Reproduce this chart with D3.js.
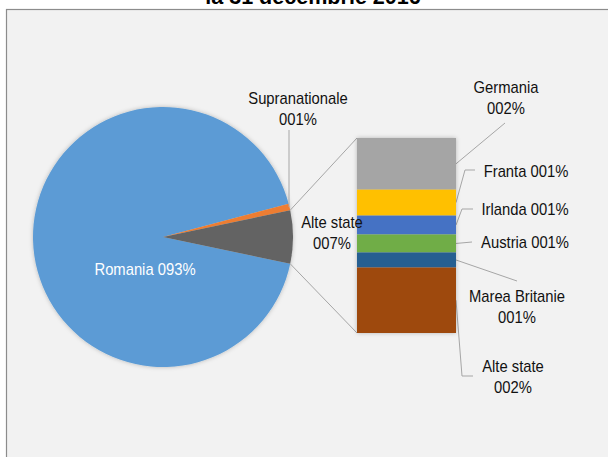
<!DOCTYPE html>
<html>
<head>
<meta charset="utf-8">
<script src="https://cdn.jsdelivr.net/npm/d3@7"></script>
<style>
  html, body { margin: 0; padding: 0; background: #fff; overflow: hidden; }
  text { font-family: Arial, "Liberation Sans", sans-serif; }
</style>
</head>
<body>
<div id="chart"></div>
<script>
// data (percent of total)
const pieCategories = ["Romania", "Supranationale", "Alte state"];
const pieValues = [92.6, 0.8, 6.61];
const pieColors = ["#5b9bd5", "#ed7d31", "#636363"];

const barCategories = ["Germania", "Franta", "Irlanda", "Austria", "Marea Britanie", "Alte state"];
const barValues = [1.75, 0.88, 0.64, 0.61, 0.51, 2.22];
const barColors = ["#a5a5a5", "#ffc000", "#4472c4", "#70ad47", "#255e91", "#9e480e"];

const titleText = "la 31 decembrie 2016";

const width = 608, height = 457;
const fmt = v => String(Math.round(v)).padStart(3, "0") + "%";

const svg = d3.select("#chart").append("svg")
    .attr("width", width)
    .attr("height", height);

const defs = svg.append("defs");
const shadow = defs.append("filter").attr("id", "shadow")
    .attr("x", "-20%").attr("y", "-20%").attr("width", "140%").attr("height", "140%");
shadow.append("feDropShadow")
    .attr("dx", 0).attr("dy", 0)
    .attr("stdDeviation", 2)
    .attr("flood-color", "#000")
    .attr("flood-opacity", 0.25);

// chart frame (cut off on the right and bottom)
svg.append("rect")
    .attr("x", 6.5).attr("y", 9.5)
    .attr("width", 700).attr("height", 500)
    .attr("fill", "#f2f2f2")
    .attr("stroke", "#8c8c8c")
    .attr("stroke-width", 1.2);

// title, only its lower part is visible in the original too
svg.append("text")
    .attr("transform", "translate(313,4) scale(0.98,1)")
    .attr("text-anchor", "middle")
    .attr("font-size", 22)
    .attr("font-weight", "bold")
    .attr("fill", "#000")
    .text(titleText);

function label(g, lines, cx, y0, color) {
    lines.forEach((t, i) => {
        g.append("text")
            .attr("transform", `translate(${cx},${y0 + i * 21}) scale(0.87,1)`)
            .attr("text-anchor", "middle")
            .attr("font-size", 17)
            .attr("fill", color || "#111")
            .text(t);
    });
}

// ---- pie ----
const cx = 163, cy = 237, R = 130;
const total = d3.sum(pieValues);
const otherShare = pieValues[2] / total;
const a0 = Math.PI / 2 + Math.PI * otherShare; // puts "Alte state" at 3 o'clock

const pie = d3.pie().sort(null).value(d => d)
    .startAngle(a0).endAngle(a0 + 2 * Math.PI);
const arcs = pie(pieValues);
const arc = d3.arc().innerRadius(0).outerRadius(R);

const pieG = svg.append("g").attr("transform", `translate(${cx},${cy})`);
pieG.append("g").attr("filter", "url(#shadow)")
    .selectAll("path")
    .data(arcs)
    .join("path")
    .attr("d", arc)
    .attr("fill", (d, i) => pieColors[i]);

const pt = (a, r) => [cx + Math.sin(a) * r, cy - Math.cos(a) * r];

// ---- bar of pie ----
const barX0 = 357, barX1 = 456;
const y = d3.scaleLinear().domain([0, d3.sum(barValues)]).range([138, 333]);
const stacks = [];
let acc = 0;
barValues.forEach(v => { stacks.push([acc, acc + v]); acc += v; });

// connector lines
const other = arcs[2];
const lineG = svg.append("g")
    .attr("fill", "none")
    .attr("stroke", "#a6a6a6")
    .attr("stroke-width", 1);
const pTop = pt(other.startAngle, R), pBot = pt(other.endAngle, R);
lineG.append("line")
    .attr("x1", pTop[0]).attr("y1", pTop[1])
    .attr("x2", barX0).attr("y2", y(0));
lineG.append("line")
    .attr("x1", pBot[0]).attr("y1", pBot[1])
    .attr("x2", barX0).attr("y2", y(acc));

svg.append("g").attr("filter", "url(#shadow)")
    .selectAll("rect")
    .data(stacks)
    .join("rect")
    .attr("x", barX0)
    .attr("width", barX1 - barX0)
    .attr("y", d => y(d[0]))
    .attr("height", d => y(d[1]) - y(d[0]))
    .attr("fill", (d, i) => barColors[i]);

// ---- labels ----
const labG = svg.append("g");

// pie labels
label(labG, [pieCategories[0] + " " + fmt(pieValues[0])], cx - 18, cy + 38, "#fff");
label(labG, [pieCategories[2], fmt(pieValues[2])], 332, 228);
label(labG, [pieCategories[1], fmt(pieValues[1])], 298, 104);
const supraPt = pt((arcs[1].startAngle + arcs[1].endAngle) / 2, R);
lineG.append("line")
    .attr("x1", 289).attr("y1", 130)
    .attr("x2", 289).attr("y2", supraPt[1]);

// bar labels: text centre, first baseline, leader points before the bar edge
const barLabels = [
    { cx: 506, y0: 93, two: true, leader: [[505, 123]] },
    { cx: 526, y0: 177, two: false, leader: [[475, 170], [465, 170]] },
    { cx: 525, y0: 215, two: false, leader: [[473, 209], [462, 209]] },
    { cx: 525, y0: 248, two: false, leader: [[472, 242]] },
    { cx: 517, y0: 302, two: true, leader: [[517, 281]] },
    { cx: 513, y0: 372, two: true, leader: [[473, 376], [462, 376]] }
];
barLabels.forEach((l, i) => {
    const name = barCategories[i], val = fmt(barValues[i]);
    label(labG, l.two ? [name, val] : [name + " " + val], l.cx, l.y0);
    const pts = l.leader.concat([[barX1, y((stacks[i][0] + stacks[i][1]) / 2)]]);
    lineG.append("path").attr("d", d3.line()(pts));
});
</script>
</body>
</html>
